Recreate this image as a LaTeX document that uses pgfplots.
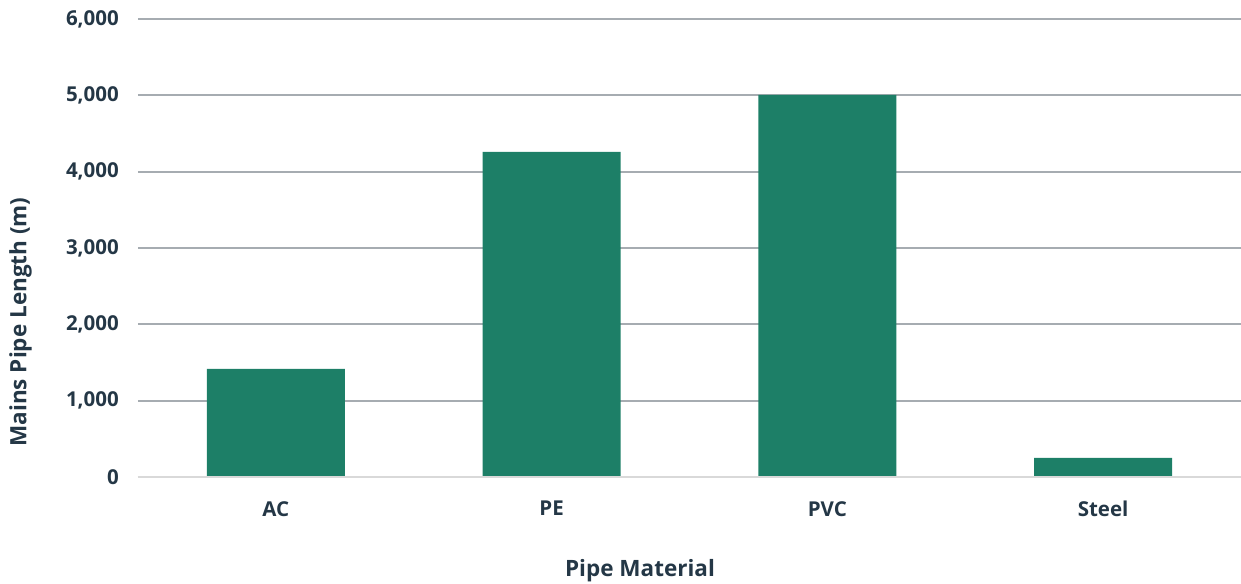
\documentclass[border=0pt]{standalone}
\usepackage{fontspec}
\setmainfont{Open Sans}
\usepackage{pgfplots}
\pgfplotsset{compat=1.18}
\definecolor{barg}{HTML}{1D7F67}
\definecolor{txt}{HTML}{243746}
\definecolor{gridc}{HTML}{A6ACB1}
\definecolor{basec}{HTML}{D9D9D9}
\begin{document}
\begin{tikzpicture}
\begin{axis}[
  at={(0,0)}, anchor=south west,
  scale only axis,
  width=661.8pt, height=274.8pt,
  xmin=-0.5, xmax=3.5, ymin=0, ymax=6000,
  xtick={0,1,2,3}, xticklabels={AC,PE,PVC,Steel},
  ytick={0,1000,2000,3000,4000,5000,6000},
  /pgf/number format/assume math mode=true,
  /pgf/number format/1000 sep={,},
  axis line style={draw=none},
  tick style={draw=none},
  ymajorgrids, major grid style={gridc, line width=1.2pt},
  major tick length=0pt,
  tick label style={font=\fontsize{12.3}{14}\selectfont\bfseries, text=txt},
  yticklabel style={xshift=-8pt},
  xticklabel style={yshift=-11pt},
  clip=false,
]
\addplot[ybar, bar width=82.8pt, fill=barg, draw=none] coordinates {(0,1415) (1,4259) (2,5006) (3,249)};
\draw[basec, line width=1.2pt] (axis cs:-0.5,0) -- (axis cs:3.5,0);
\end{axis}
\node[rotate=90, text=txt, font=\fontsize{13.5}{15}\selectfont\bfseries] at (-70.5pt,93pt) {Mains Pipe Length (m)};
\node[text=txt, font=\fontsize{13.5}{15}\selectfont\bfseries] at (301.2pt,-56pt) {Pipe Material};
\pgfresetboundingbox
\path[use as bounding box] (-82.8pt,-64.2pt) rectangle (661.8pt,286.2pt);
\end{tikzpicture}
\end{document}
